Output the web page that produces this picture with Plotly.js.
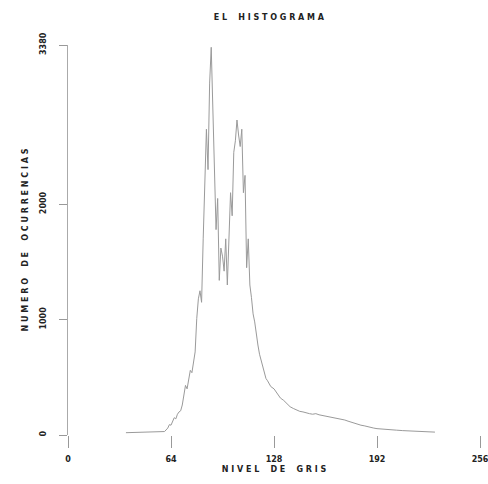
<!DOCTYPE html>
<html>
<head>
<meta charset="utf-8">
<script src="https://cdn.plot.ly/plotly-3.0.1.min.js"></script>
<style>html,body{margin:0;padding:0;background:#fff;}#chart{width:488px;height:484px;}</style>
</head>
<body>
<div id="chart"></div>
<script>
// Gray levels (x) and pixel counts (y)
const grayLevels = [36,40,44,48,52,56,60,62,63,64,65,66,67,68,69,70,71,72,73,74,75,76,77,78,79,80,81,82,83,84,85,86,87,88,89,90,91,92,93,94,95,96,97,98,99,100,101,102,103,104,105,106,107,108,109,110,111,112,113,114,115,116,117,118,119,120,121,122,123,124,125,126,128,130,132,134,136,138,140,142,144,146,148,150,152,154,156,158,160,162,164,166,168,170,172,174,176,178,180,182,184,186,188,190,192,194,196,198,200,204,208,212,216,220,224,228];
const counts = [20,22,20,24,22,25,30,60,90,85,120,150,140,180,200,210,260,330,430,400,500,560,540,650,720,1010,1180,1250,1150,1700,2200,2650,2300,3050,3360,2900,2400,1780,2050,1340,1620,1550,1420,1700,1300,1680,2100,1900,2450,2550,2730,2600,2500,2650,2100,2250,1450,1700,1300,1190,1050,980,860,780,700,650,600,560,490,470,440,420,400,360,320,300,270,245,230,215,205,200,190,185,180,185,175,170,165,160,150,150,140,135,130,120,110,100,95,85,80,72,65,60,55,52,50,47,45,42,38,35,32,30,27,25];
const xTickVals = [0,64,128,192,256];
const xTickText = ['0','64','128','192','256'];
const yTickVals = [0,1000,2000,3380];
const yTickText = ['0','1000','2000','3380'];

const trace = {
  x: grayLevels, y: counts, type: 'scatter', mode: 'lines',
  line: {color: '#9a9a9a', width: 1}, hoverinfo: 'skip'
};
const fnt = {family: 'DejaVu Sans, sans-serif', size: 8, color: '#222'};
const layout = {
  width: 488, height: 484,
  margin: {l: 68, r: 8, t: 45, b: 49},
  paper_bgcolor: '#fff', plot_bgcolor: '#fff',
  showlegend: false,
  title: {text: '<b>E L    H I S T O G R A M A</b>', font: {family: 'DejaVu Sans, sans-serif', size: 8, color: '#222'}, x: 0.551, xanchor: 'center', y: 0.965, yanchor: 'middle'},
  xaxis: {
    range: [0, 256], tickvals: xTickVals, ticktext: xTickText,
    showgrid: false, zeroline: false, showline: false,
    ticks: 'outside', ticklen: 12, tickcolor: '#999', tickwidth: 1,
    ticklabelstandoff: 4, ticklabeloverflow: 'allow',
    tickfont: {family: 'DejaVu Sans, sans-serif', size: 8, color: '#222', weight: 'bold'},
    title: {text: '<b>N I V E L    D E    G R I S</b>', font: fnt, standoff: 3},
    automargin: false
  },
  yaxis: {
    range: [0, 3380], tickvals: yTickVals, ticktext: yTickText,
    showgrid: false, zeroline: false, showline: true, linecolor: '#aaa', linewidth: 1,
    ticks: 'outside', ticklen: 8, tickcolor: '#999', tickwidth: 1, tickangle: -90,
    ticklabelstandoff: 10,
    tickfont: {family: 'DejaVu Sans, sans-serif', size: 8, color: '#222', weight: 'bold'},
    title: {text: '<b>N U M E R O    D E    O C U R R E N C I A S</b>', font: fnt, standoff: 8},
    automargin: false
  }
};
Plotly.newPlot('chart', [trace], layout, {staticPlot: true});
</script>
</body>
</html>
